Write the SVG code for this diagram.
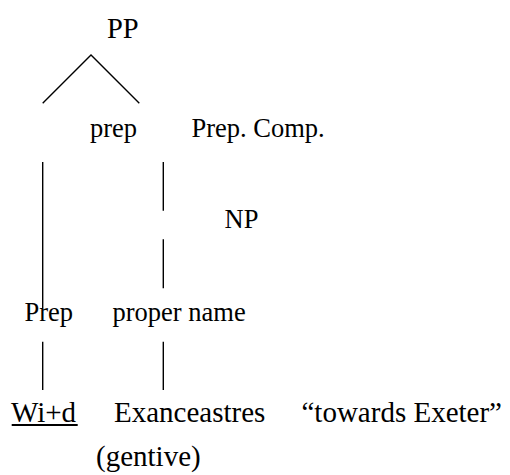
<svg xmlns="http://www.w3.org/2000/svg" width="510" height="475" viewBox="0 0 510 475">
<style>
text { font-family: "Liberation Serif", "Times New Roman", serif; font-size: 26.5px; fill: #000; }
text.big { font-size: 28.5px; }
text.low { font-size: 29px; }
.ln { stroke: #000; stroke-width: 1.4; fill: none; }
</style>
<rect width="510" height="475" fill="#fff"/>
<g id="connectors">
<polyline class="ln" points="42.7,103.3 91,55 139.3,103.3"/>
<line class="ln" x1="42.7" y1="162" x2="42.7" y2="308"/>
<line class="ln" x1="163.3" y1="162" x2="163.3" y2="210.7"/>
<line class="ln" x1="163.3" y1="239.3" x2="163.3" y2="288.3"/>
<line class="ln" x1="42.7" y1="341.7" x2="42.7" y2="390"/>
<line class="ln" x1="163.3" y1="341.7" x2="163.3" y2="390"/>
</g>
<g id="node-PP"><text class="big" x="107" y="38">PP</text></g>
<g id="node-prep"><text x="90" y="137">prep</text></g>
<g id="node-prepcomp"><text x="191.5" y="137">Prep. Comp.</text></g>
<g id="node-NP"><text x="224.5" y="228.3">NP</text></g>
<g id="node-Prep"><text x="24.5" y="321">Prep</text></g>
<g id="node-propername"><text x="112.5" y="321">proper name</text></g>
<g id="node-wid"><text class="low" x="11" y="422">Wi+d</text><line x1="11.7" y1="425" x2="77.7" y2="425" stroke="#000" stroke-width="2"/></g>
<g id="node-exanceastres"><text class="low" x="114" y="422">Exanceastres</text></g>
<g id="node-gloss"><text class="low" x="301.5" y="422">“towards Exeter”</text></g>
<g id="node-gentive"><text class="low" x="96" y="466">(gentive)</text></g>
</svg>
